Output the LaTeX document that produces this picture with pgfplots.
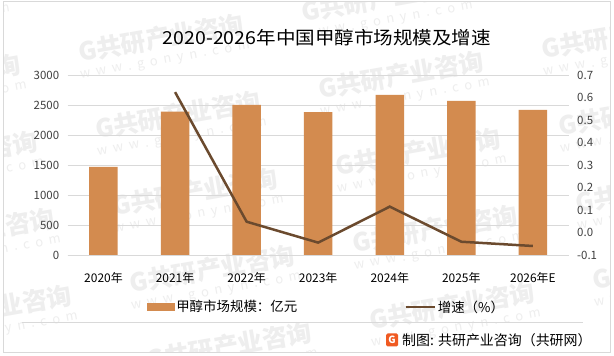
\documentclass[border=0pt]{standalone}
\usepackage{fontspec}
\setmainfont{Noto Sans CJK SC}
\usepackage{pgfplots}
\pgfplotsset{compat=1.18}
\definecolor{barc}{HTML}{D38B4F}
\definecolor{linec}{HTML}{6B4A2E}
\definecolor{gridc}{HTML}{D9D9D9}
\definecolor{txt}{HTML}{404040}
\definecolor{logoc}{HTML}{F05A22}
\definecolor{wmc}{HTML}{EEEEEE}
\newcommand{\wm}[2]{%
  \begin{scope}[shift={(#1bp,#2bp)}, rotate=10, transform shape]
    \node[text=wmc, font=\bfseries\fontsize{25}{28}\selectfont, inner sep=0pt] at (0,0) {G共研产业咨询};
    \node[text=wmc, font=\fontsize{13}{15}\selectfont, inner sep=0pt] at (0bp,-24bp) {w\ \ w\ \ w\ \ .\ \ g\ \ o\ \ n\ \ y\ \ n\ \ .\ \ c\ \ o\ \ m};
  \end{scope}}
\begin{document}
\begin{tikzpicture}
\path[use as bounding box, fill=white] (0bp,0bp) rectangle (614bp,356bp);
% watermarks (lattice), behind the chart
\begin{scope}
\clip (4bp,4bp) rectangle (610bp,354bp);
\wm{-79}{355}\wm{161}{318}\wm{401}{281}\wm{641}{244}
\wm{-62}{278}\wm{178}{241}\wm{418}{204}\wm{658}{167}
\wm{-45}{201}\wm{195}{164}\wm{435}{127}\wm{675}{90}
\wm{-28}{124}\wm{212}{87}\wm{452}{50}\wm{692}{13}
\wm{-11}{47}\wm{229}{10}
\wm{144}{395}\wm{384}{358}\wm{624}{321}
\end{scope}
\draw[gridc, line width=1bp] (3.5bp,3.5bp) rectangle (610.5bp,354.5bp);
\node[font=\fontsize{18}{21}\selectfont, text=black, xscale=1.09] at (327bp,318bp) {2020-2026年中国甲醇市场规模及增速};
\begin{axis}[
  at={(67.7bp,101bp)}, anchor=south west, scale only axis,
  width=501bp, height=180bp,
  xmin=-0.5, xmax=6.5, ymin=0, ymax=3000,
  xtick={0,...,6},
  xticklabels={2020年,2021年,2022年,2023年,2024年,2025年,2026年E},
  ytick={0,500,...,3000},
  ymajorgrids, grid style={gridc, line width=0.75bp},
  axis x line*=bottom, axis y line*=left,
  y axis line style={draw=none},
  x axis line style={gridc, line width=0.75bp, -},
  major tick length=0pt,
  /pgf/number format/assume math mode=true,
  /pgf/number format/1000 sep={},
  yticklabel style={font=\fontsize{11.5}{13}\selectfont, text=txt, xshift=-5bp},
  xticklabel style={font=\fontsize{12}{14}\selectfont, text=black, yshift=-14bp},
  ybar, bar width=28.5bp,
]
\addplot[fill=barc, draw=none] coordinates {(0,1467)(1,2390)(2,2500)(3,2383)(4,2667)(5,2567)(6,2417)};
\end{axis}
\begin{axis}[
  at={(67.7bp,101bp)}, anchor=south west, scale only axis,
  width=501bp, height=180bp,
  xmin=-0.5, xmax=6.5, ymin=-0.1, ymax=0.7,
  axis y line*=right, hide x axis,
  y axis line style={draw=none},
  major tick length=0pt,
  ytick={-0.1,0,0.1,0.2,0.3,0.4,0.5,0.6,0.7},
  /pgf/number format/assume math mode=true,
  yticklabel style={font=\fontsize{11.5}{13}\selectfont, text=txt, xshift=5bp,
    /pgf/number format/.cd, fixed, fixed zerofill, precision=1},
  legend style={at={(76bp,-52bp)}, anchor=west, draw=none, fill=none,
    font=\fontsize{13.5}{16}\selectfont, /tikz/every even column/.append style={column sep=105bp}},
  legend columns=2,
  legend cell align=left,
]
\addlegendimage{legend image code/.code={\fill[barc] (0bp,-3.5bp) rectangle (27bp,3.5bp);}}
\addlegendentry{甲醇市场规模：亿元}
\addplot[linec, line width=2.5bp, mark=none, legend image code/.code={\draw[linec, line width=2.5bp] (0bp,0bp) -- (29bp,0bp);}]
  coordinates {(1,0.624)(2,0.048)(3,-0.045)(4,0.115)(5,-0.041)(6,-0.06)};
\addlegendentry{增速（\%）}
\end{axis}
\draw[gridc, line width=1bp] (22bp,33bp) -- (583bp,33bp);
\node[fill=logoc, rounded corners=1.5bp, minimum width=12bp, minimum height=13bp, inner sep=0pt, text=white, font=\bfseries\fontsize{10}{10}\selectfont] at (392bp,16bp) {G};
\node[anchor=west, font=\fontsize{14}{16}\selectfont, text=black, inner sep=0pt] at (402bp,16bp) {制图: 共研产业咨询（共研网）};
\end{tikzpicture}
\end{document}
